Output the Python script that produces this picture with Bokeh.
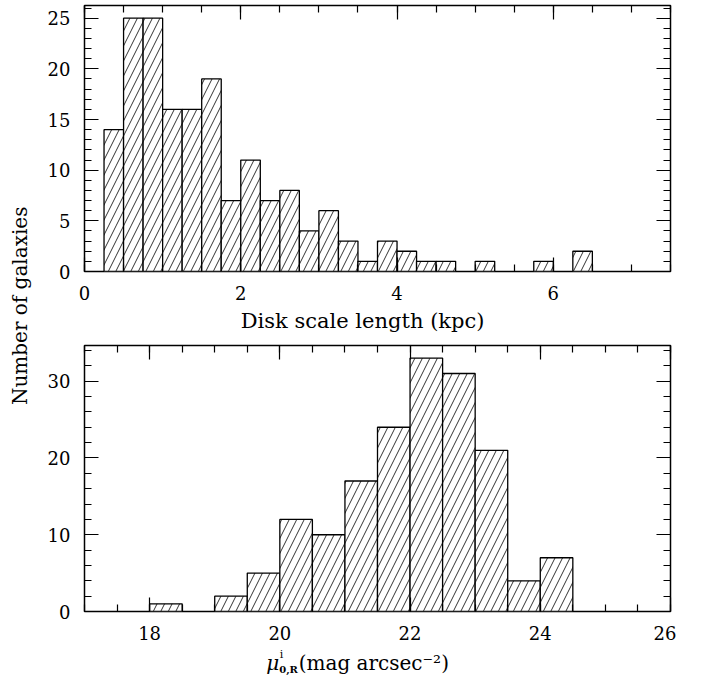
import numpy as np
from bokeh.plotting import figure
from bokeh.models import (LinearAxis, SingleIntervalTicker, Range1d, Label,
                          CustomJSTickFormatter, ColumnDataSource)
from bokeh.layouts import row, column
from bokeh.embed import file_html
from bokeh.resources import INLINE

FONT = "DejaVu Serif"

# ---- Top panel data: disk scale length (kpc) histogram
scale_bin_left = [0.25, 0.50, 0.75, 1.00, 1.25, 1.50, 1.75, 2.00, 2.25, 2.50,
                  2.75, 3.00, 3.25, 3.50, 3.75, 4.00, 4.25, 4.50, 4.75, 5.00,
                  5.25, 5.50, 5.75, 6.00, 6.25]
scale_bin_right = [0.50, 0.75, 1.00, 1.25, 1.50, 1.75, 2.00, 2.25, 2.50, 2.75,
                   3.00, 3.25, 3.50, 3.75, 4.00, 4.25, 4.50, 4.75, 5.00, 5.25,
                   5.50, 5.75, 6.00, 6.25, 6.50]
scale_counts = [14, 25, 25, 16, 16, 19, 7, 11, 7, 8,
                4, 6, 3, 1, 3, 2, 1, 1, 0, 1,
                0, 0, 1, 0, 2]

# ---- Bottom panel data: central surface brightness mu_0,R^i histogram
mu_bin_left = [18.0, 19.0, 19.5, 20.0, 20.5, 21.0, 21.5, 22.0, 22.5, 23.0, 23.5, 24.0]
mu_bin_right = [18.5, 19.5, 20.0, 20.5, 21.0, 21.5, 22.0, 22.5, 23.0, 23.5, 24.0, 24.5]
mu_counts = [1, 2, 5, 12, 10, 17, 24, 33, 31, 21, 4, 7]

top_xrange = (0, 7.5)
top_yrange = (0, 26.25)
bot_xrange = (17, 26)
bot_yrange = (0, 34.65)

PANEL_W = 632
BL, BR = 40, 6


def blank_formatter():
    return CustomJSTickFormatter(code="return ''")


def style_axis(ax, labels=True):
    ax.major_tick_in = 14
    ax.major_tick_out = 0
    ax.minor_tick_in = 7
    ax.minor_tick_out = 0
    ax.major_tick_line_color = "black"
    ax.minor_tick_line_color = "black"
    ax.major_tick_line_width = 1.2
    ax.minor_tick_line_width = 1.2
    ax.axis_line_color = None
    ax.major_label_text_font = FONT
    ax.major_label_text_font_size = "18px"
    ax.major_label_text_color = "black"
    if labels:
        ax.major_label_standoff = 14
    else:
        ax.formatter = blank_formatter()
        ax.major_label_standoff = 0


def make_panel(xr, yr, xint, xminor, yint, yminor, height, bt, bb):
    p = figure(width=PANEL_W, height=height,
               x_range=Range1d(*xr), y_range=Range1d(*yr),
               output_backend="svg", toolbar_location=None,
               x_axis_location=None, y_axis_location=None,
               min_border_left=BL, min_border_right=BR,
               min_border_top=bt, min_border_bottom=bb)
    p.outline_line_color = "black"
    p.outline_line_width = 1.5
    for g in p.grid:
        g.visible = False
    for side, lab in (("below", True), ("above", False)):
        ax = LinearAxis(ticker=SingleIntervalTicker(interval=xint, num_minor_ticks=xminor))
        style_axis(ax, lab)
        p.add_layout(ax, side)
    for side, lab in (("left", True), ("right", False)):
        ax = LinearAxis(ticker=SingleIntervalTicker(interval=yint, num_minor_ticks=yminor))
        style_axis(ax, lab)
        p.add_layout(ax, side)
    return p


def make_label_strip(x_range, height):
    f = figure(width=PANEL_W, height=height, x_range=x_range, y_range=Range1d(0, 1),
               output_backend="svg", toolbar_location=None,
               x_axis_location=None, y_axis_location=None,
               min_border_left=BL, min_border_right=BR,
               min_border_top=0, min_border_bottom=0)
    f.outline_line_color = None
    for g in f.grid:
        g.visible = False
    return f


def add_hist(p, left, right, counts):
    keep = [i for i, c in enumerate(counts) if c > 0]
    src = ColumnDataSource(dict(left=[left[i] for i in keep],
                                right=[right[i] for i in keep],
                                top=[counts[i] for i in keep]))
    p.quad(left="left", right="right", bottom=0, top="top", source=src,
           fill_color="white", line_color="black", line_width=1.3,
           hatch_pattern="/", hatch_color="black", hatch_scale=15,
           hatch_weight=0.8)


# ---- top panel
p1 = make_panel(top_xrange, top_yrange, 2, 4, 5, 5, height=307, bt=5, bb=36)
add_hist(p1, scale_bin_left, scale_bin_right, scale_counts)
s1 = make_label_strip(p1.x_range, 33)
s1.add_layout(Label(x=2.0, y=0.58, text="Disk scale length (kpc)",
                    text_font=FONT, text_font_size="21px", text_color="black",
                    text_align="left", text_baseline="alphabetic"))

# ---- bottom panel
p2 = make_panel(bot_xrange, bot_yrange, 2, 4, 10, 5, height=307, bt=5, bb=36)
add_hist(p2, mu_bin_left, mu_bin_right, mu_counts)
s2 = make_label_strip(p2.x_range, 30)
s2.add_layout(Label(x=19.79, y=0.5, text="μ", text_font=FONT, text_font_style="italic",
                    text_font_size="20px", text_color="black",
                    text_align="left", text_baseline="alphabetic"))
s2.add_layout(Label(x=20.0, y=0.76, text="i", text_font=FONT,
                    text_font_size="11px", text_color="black",
                    text_align="left", text_baseline="alphabetic"))
s2.add_layout(Label(x=19.99, y=0.28, text="0,R", text_font=FONT, text_font_style="bold",
                    text_font_size="10px", text_color="black",
                    text_align="left", text_baseline="alphabetic"))
s2.add_layout(Label(x=20.29, y=0.5, text="(mag arcsec⁻²)", text_font=FONT,
                    text_font_size="20px", text_color="black",
                    text_align="left", text_baseline="alphabetic"))

# ---- shared y label
pl = figure(width=44, height=677, x_range=Range1d(0, 1), y_range=Range1d(0, 1),
            output_backend="svg", toolbar_location=None,
            x_axis_location=None, y_axis_location=None,
            min_border_left=0, min_border_right=0, min_border_top=0, min_border_bottom=0)
pl.outline_line_color = None
for g in pl.grid:
    g.visible = False
pl.add_layout(Label(x=0.45, y=0.549, text="Number of galaxies", angle=np.pi / 2,
                    text_font=FONT, text_font_size="20px", text_color="black",
                    text_align="center", text_baseline="middle"))

layout = row(pl, column(p1, s1, p2, s2, spacing=0), spacing=0)

open("out.html", "w").write(file_html(layout, INLINE))
